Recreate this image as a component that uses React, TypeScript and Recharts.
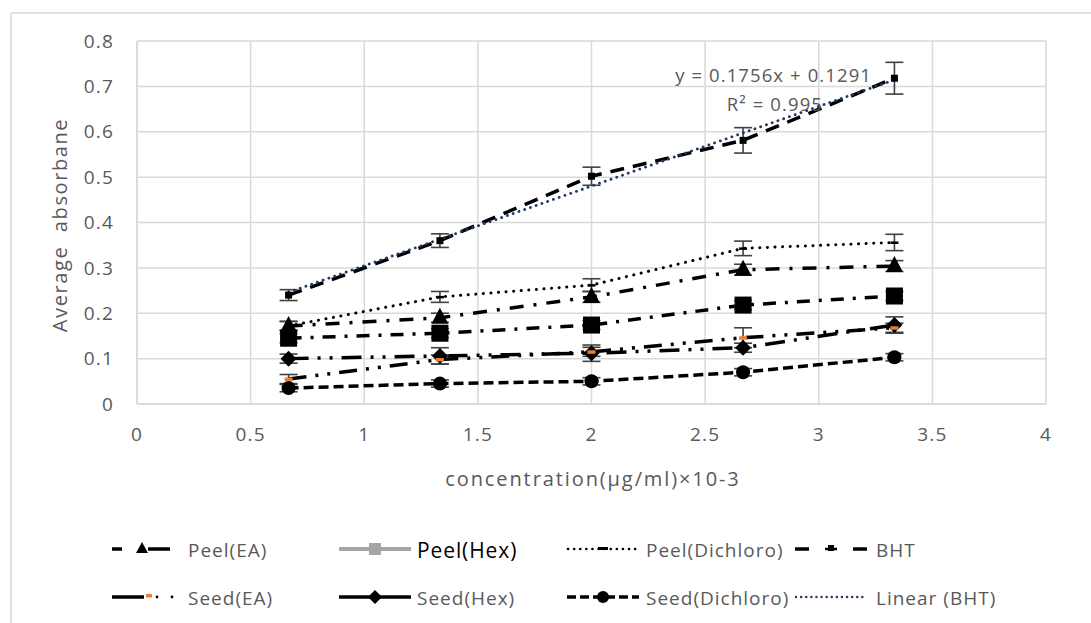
import React from 'react';
import { ComposedChart, Line, XAxis, YAxis, CartesianGrid, ErrorBar } from 'recharts';

const X_VALUES = [0.667, 1.333, 2, 2.667, 3.333];
const X_TICKS = [0, 0.5, 1, 1.5, 2, 2.5, 3, 3.5, 4];
const Y_TICKS = [0, 0.1, 0.2, 0.3, 0.4, 0.5, 0.6, 0.7, 0.8];

const PEEL_EA = [0.172, 0.19, 0.236, 0.296, 0.304];
const PEEL_EA_ERR = [0.01, 0.01, 0.012, 0.012, 0.012];
const PEEL_HEX = [0.145, 0.156, 0.174, 0.218, 0.238];
const PEEL_HEX_ERR = [0.01, 0.01, 0.01, 0.01, 0.01];
const PEEL_DICHLORO = [0.172, 0.236, 0.262, 0.343, 0.356];
const PEEL_DICHLORO_ERR = [0.01, 0.012, 0.014, 0.016, 0.018];
const BHT = [0.24, 0.36, 0.502, 0.581, 0.718];
const BHT_ERR = [0.012, 0.015, 0.02, 0.028, 0.035];
const SEED_EA = [0.055, 0.098, 0.115, 0.146, 0.168];
const SEED_EA_ERR = [0.01, 0.01, 0.01, 0.022, 0.01];
const SEED_HEX = [0.1, 0.106, 0.112, 0.124, 0.174];
const SEED_HEX_ERR = [0.01, 0.018, 0.018, 0.01, 0.018];
const SEED_DICHLORO = [0.035, 0.045, 0.05, 0.07, 0.103];
const SEED_DICHLORO_ERR = [0.008, 0.008, 0.008, 0.008, 0.008];

const TREND_SLOPE = 0.1756;
const TREND_INTERCEPT = 0.1291;

const rows = (vals: number[], errs: number[]) =>
  X_VALUES.map((x, i) => ({ x, y: vals[i], err: errs[i] }));

const trendRows = [X_VALUES[0], X_VALUES[X_VALUES.length - 1]].map((x) => ({
  x,
  y: TREND_SLOPE * x + TREND_INTERCEPT,
}));

const FONT = "'Open Sans', 'Noto Sans', sans-serif";
const TXT = '#595959';
const GRID = '#d9d9d9';

const tri = (p: any) => (
  <polygon key={p.key} points={`${p.cx},${p.cy - 10} ${p.cx - 8.5},${p.cy + 6} ${p.cx + 8.5},${p.cy + 6}`} fill="#000" />
);
const bigSquare = (p: any) => <rect key={p.key} x={p.cx - 8.5} y={p.cy - 8.5} width={17} height={17} fill="#000" />;
const smallSquare = (p: any) => <rect key={p.key} x={p.cx - 3.5} y={p.cy - 3.5} width={7} height={7} fill="#000" />;
const dash = (p: any) => <rect key={p.key} x={p.cx - 4} y={p.cy - 1} width={8} height={2.5} fill="#000" />;
const orange = (p: any) => <rect key={p.key} x={p.cx - 4} y={p.cy - 1.5} width={8} height={3.5} fill="#ed7d31" />;
const diamond = (p: any) => (
  <polygon key={p.key} points={`${p.cx},${p.cy - 8} ${p.cx + 8},${p.cy} ${p.cx},${p.cy + 8} ${p.cx - 8},${p.cy}`} fill="#000" />
);
const circle = (p: any) => <circle key={p.key} cx={p.cx} cy={p.cy} r={7} fill="#000" />;

const eb = <ErrorBar dataKey="err" width={9} strokeWidth={1.6} stroke="#404040" direction="y" />;

function LegendSample({ kind }: { kind: string }) {
  const w = 72;
  const c = 36;
  const y = 8;
  let content: React.ReactNode = null;
  switch (kind) {
    case 'peelEA':
      content = (
        <>
          <line x1={0} x2={10} y1={y} y2={y} stroke="#000" strokeWidth={3.5} />
          <polygon points={`${30},${y - 7} ${24},${y + 4} ${36},${y + 4}`} fill="#000" />
          <line x1={36} x2={58} y1={y} y2={y} stroke="#000" strokeWidth={3.5} />
        </>
      );
      break;
    case 'peelHex':
      content = (
        <>
          <line x1={0} x2={w} y1={y} y2={y} stroke="#a5a5a5" strokeWidth={4} />
          <rect x={c - 6} y={y - 6} width={12} height={12} fill="#a5a5a5" />
        </>
      );
      break;
    case 'peelDi':
      content = (
        <>
          <line x1={1} x2={w} y1={y} y2={y} stroke="#000" strokeWidth={2.6} strokeDasharray="0.1 6" strokeLinecap="round" />
          <rect x={c - 5} y={y - 2} width={10} height={3} fill="#000" />
        </>
      );
      break;
    case 'bht':
      content = (
        <>
          <line x1={0} x2={14} y1={y} y2={y} stroke="#000" strokeWidth={3.5} />
          <rect x={c - 3} y={y - 4} width={6} height={6} fill="#000" />
          <line x1={c - 6} x2={c + 6} y1={y} y2={y} stroke="#000" strokeWidth={2.5} />
          <line x1={58} x2={w} y1={y} y2={y} stroke="#000" strokeWidth={3.5} />
        </>
      );
      break;
    case 'seedEA':
      content = (
        <>
          <line x1={0} x2={32} y1={y} y2={y} stroke="#000" strokeWidth={3.5} />
          <rect x={34} y={y - 3} width={6} height={3.5} fill="#ed7d31" />
          <circle cx={45} cy={y} r={1.4} fill="#000" />
          <circle cx={60} cy={y} r={1.4} fill="#000" />
        </>
      );
      break;
    case 'seedHex':
      content = (
        <>
          <line x1={0} x2={w} y1={y} y2={y} stroke="#000" strokeWidth={3.5} />
          <polygon points={`${c},${y - 7} ${c + 7},${y} ${c},${y + 7} ${c - 7},${y}`} fill="#000" />
        </>
      );
      break;
    case 'seedDi':
      content = (
        <>
          <line x1={0} x2={w} y1={y} y2={y} stroke="#000" strokeWidth={3.5} strokeDasharray="9 4" />
          <circle cx={c} cy={y} r={6} fill="#000" />
        </>
      );
      break;
    case 'linear':
      content = (
        <line x1={1} x2={w} y1={y} y2={y} stroke="#203864" strokeWidth={2.4} strokeDasharray="0.1 5" strokeLinecap="round" />
      );
      break;
  }
  return <g>{content}</g>;
}

const LEGEND_COLS = [112, 339, 567, 795];
const LEGEND_TEXT_X = [188, 417, 646, 876];
const LEGEND_ROWS = [552, 600];
const LEGEND_ITEMS = [
  { kind: 'peelEA', label: 'Peel(EA)' },
  { kind: 'peelHex', label: 'Peel(Hex)' },
  { kind: 'peelDi', label: 'Peel(Dichloro)' },
  { kind: 'bht', label: 'BHT' },
  { kind: 'seedEA', label: 'Seed(EA)' },
  { kind: 'seedHex', label: 'Seed(Hex)' },
  { kind: 'seedDi', label: 'Seed(Dichloro)' },
  { kind: 'linear', label: 'Linear (BHT)' },
];

const tickStyle = { fill: TXT, fontSize: 19, fontFamily: FONT, letterSpacing: 1.2 };

export default function App() {
  return (
    <div style={{ position: 'absolute', left: 0, top: 0, width: 1091, height: 623, background: '#fff', overflow: 'hidden' }}>
      <ComposedChart
        width={1091}
        height={623}
        margin={{ top: 41, right: 45, left: 0, bottom: 189 }}
        style={{ fontFamily: FONT }}
      >
        <CartesianGrid stroke={GRID} strokeWidth={1.5} horizontalValues={Y_TICKS} verticalValues={X_TICKS} />
        <XAxis
          dataKey="x"
          type="number"
          domain={[0, 4]}
          ticks={X_TICKS}
          axisLine={{ stroke: GRID, strokeWidth: 1.5 }}
          tickLine={false}
          tickMargin={18}
          height={30}
          tick={tickStyle}
          allowDuplicatedCategory={false}
        />
        <YAxis
          type="number"
          domain={[0, 0.8]}
          ticks={Y_TICKS}
          width={137}
          axisLine={{ stroke: GRID, strokeWidth: 1.5 }}
          tickLine={false}
          tickMargin={17}
          tick={tickStyle}
          tickFormatter={(v: number) => String(+v.toFixed(1))}
        />
        <Line data={rows(SEED_DICHLORO, SEED_DICHLORO_ERR)} dataKey="y" stroke="#000" strokeWidth={3.5} strokeDasharray="10 5" dot={circle} isAnimationActive={false}>
          {eb}
        </Line>
        <Line data={rows(SEED_HEX, SEED_HEX_ERR)} dataKey="y" stroke="#000" strokeWidth={3.5} strokeDasharray="20 9 3 9 3 9" dot={diamond} isAnimationActive={false}>
          {eb}
        </Line>
        <Line data={rows(SEED_EA, SEED_EA_ERR)} dataKey="y" stroke="#000" strokeWidth={3.5} strokeDasharray="18 9 3 9 3 9" dot={orange} isAnimationActive={false}>
          {eb}
        </Line>
        <Line data={rows(PEEL_HEX, PEEL_HEX_ERR)} dataKey="y" stroke="#000" strokeWidth={3.5} strokeDasharray="13 9 3 9" dot={bigSquare} isAnimationActive={false}>
          {eb}
        </Line>
        <Line data={rows(PEEL_EA, PEEL_EA_ERR)} dataKey="y" stroke="#000" strokeWidth={3.5} strokeDasharray="14 10 3 10" dot={tri} isAnimationActive={false}>
          {eb}
        </Line>
        <Line data={rows(PEEL_DICHLORO, PEEL_DICHLORO_ERR)} dataKey="y" stroke="#000" strokeWidth={3} strokeDasharray="0.1 7.5" strokeLinecap="round" dot={dash} isAnimationActive={false}>
          {eb}
        </Line>
        <Line data={rows(BHT, BHT_ERR)} dataKey="y" stroke="#000" strokeWidth={3.5} strokeDasharray="14 9" dot={smallSquare} isAnimationActive={false}>
          {eb}
        </Line>
        <Line data={trendRows} dataKey="y" stroke="#203864" strokeWidth={2.8} strokeDasharray="0.1 6" strokeLinecap="round" dot={false} isAnimationActive={false} />
      </ComposedChart>
      <svg width={1091} height={623} style={{ position: 'absolute', left: 0, top: 0, pointerEvents: 'none', fontFamily: FONT }}>
        <line x1={11} y1={13} x2={1091} y2={13} stroke={GRID} strokeWidth={1.5} />
        <line x1={11} y1={13} x2={11} y2={623} stroke={GRID} strokeWidth={1.5} />
        <text x={872} y={77} textAnchor="end" dominantBaseline="middle" fill={TXT} fontSize={18.5} letterSpacing={1.1}>y = 0.1756x + 0.1291</text>
        <text x={823} y={106} textAnchor="end" dominantBaseline="middle" fill={TXT} fontSize={18.5} letterSpacing={1.1}>R² = 0.995</text>
        <text x={62} y={225} textAnchor="middle" dominantBaseline="middle" fill={TXT} fontSize={20} letterSpacing={1.6} style={{ whiteSpace: 'pre' }} transform="rotate(-90 62 225)">Average  absorbane</text>
        <text x={593} y={481} textAnchor="middle" dominantBaseline="middle" fill={TXT} fontSize={20} letterSpacing={1.9}>concentration(μg/ml)×10-3</text>
        {LEGEND_ITEMS.map((it, i) => {
          const col = i % 4;
          const row = Math.floor(i / 4);
          const yy = LEGEND_ROWS[row];
          return (
            <g key={it.label}>
              <g transform={`translate(${LEGEND_COLS[col]}, ${yy - 11})`}>
                <LegendSample kind={it.kind} />
              </g>
              <text
                x={LEGEND_TEXT_X[col]}
                y={yy}
                dominantBaseline="middle"
                fill={it.kind === 'peelHex' ? '#000' : TXT}
                fontSize={it.kind === 'peelHex' ? 21 : 19}
                letterSpacing={it.kind === 'peelHex' ? 0.9 : 1}
              >
                {it.label}
              </text>
            </g>
          );
        })}
      </svg>
    </div>
  );
}
